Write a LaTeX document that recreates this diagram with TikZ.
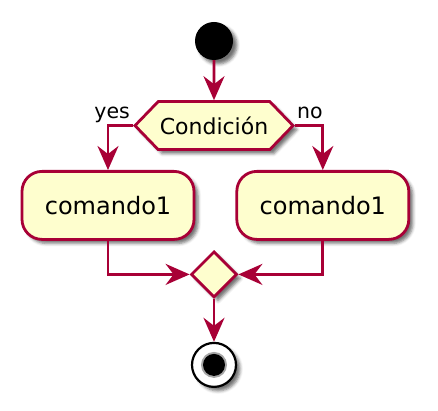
\documentclass[tikz,border=0pt]{standalone}
\usepackage{fontspec}
\setmainfont{DejaVu Sans}
\usetikzlibrary{arrows.meta,positioning,shapes.geometric,shapes.symbols,shadows.blur}
\definecolor{umlred}{HTML}{A80036}
\definecolor{umlfill}{HTML}{FEFECE}
\tikzset{
    shade/.style={blur shadow={shadow xshift=4pt,shadow yshift=-4pt,shadow blur radius=3pt,shadow opacity=55}},
    startdot/.style={circle,fill=black,minimum size=38pt,inner sep=0pt,shade},
    choice/.style={signal,signal to=west and east,signal pointer angle=92,draw=umlred,fill=umlfill,line width=2.8pt,minimum width=158pt,minimum height=48pt,inner sep=0pt,font=\fontsize{22}{26}\selectfont,shade},
    activity/.style={rectangle,rounded corners=20pt,draw=umlred,fill=umlfill,line width=2.8pt,minimum width=172pt,minimum height=68pt,font=\fontsize{24}{28}\selectfont,shade},
    junction/.style={diamond,draw=umlred,fill=umlfill,line width=2.8pt,minimum size=46pt,inner sep=0pt,shade},
    enddot/.style={circle,draw=black,fill=white,line width=2.2pt,minimum size=44pt,inner sep=0pt,shade,
        path picture={\fill[gray!70] (path picture bounding box.center) circle (13pt);
                      \fill[black] (path picture bounding box.center) circle (11pt);}},
    flow/.style={-{Stealth[length=24pt,width=21pt,inset=8pt]},line width=2.8pt,draw=umlred},
    guard/.style={font=\fontsize{20.5}{24}\selectfont,inner sep=0pt}
}

\begin{document}
\begin{tikzpicture}[x=1pt,y=-1pt]
    \useasboundingbox (0,0) rectangle (438,411);
    \node[startdot] (start) at (214,41) {};
    \node[choice] (cond) [below=40pt of start] {Condición};
    \node[activity] (yescmd) [below=19pt of cond, xshift=-106pt] {comando1};
    \node[activity] (nocmd) [right=40pt of yescmd] {comando1};
    \node[junction] (merge) [below=99pt of cond] {};
    \node[enddot] (stop) [below=43pt of merge] {};
    \node[guard, anchor=base east] (yes) at ([shift={(-3pt,7pt)}]cond.west) {yes};
    \node[guard, anchor=base west] (no) at ([shift={(2pt,7pt)}]cond.east) {no};
    % flows
    \draw[flow] (start) -- (cond);
    \draw[flow] (cond.west) -| (yescmd.north);
    \draw[flow] (cond.east) -| (nocmd.north);
    \draw[flow] (yescmd.south) |- (merge.west);
    \draw[flow] (nocmd.south) |- (merge.east);
    \draw[flow] (merge) -- (stop);
\end{tikzpicture}
\end{document}
